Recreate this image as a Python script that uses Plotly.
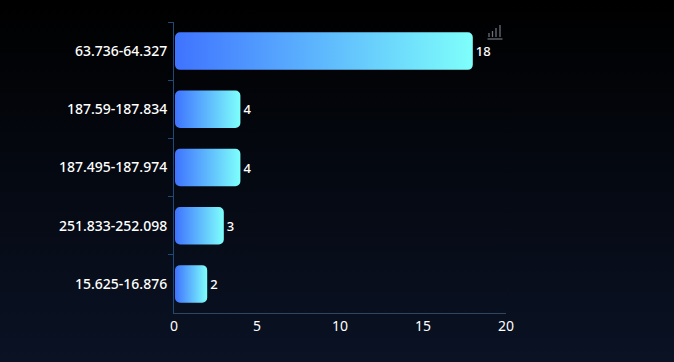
import base64
import plotly.graph_objects as go

categories = ["63.736-64.327", "187.59-187.834", "187.495-187.974", "251.833-252.098", "15.625-16.876"]
counts = [18, 4, 4, 3, 2]
x_ticks = [0, 5, 10, 15, 20]

WIDTH, HEIGHT = 674, 362
LEFT, RIGHT, TOP, BOTTOM = 174, 168, 22, 49
BAR_FRACTION = 0.645


def svg_uri(svg):
    return "data:image/svg+xml;base64," + base64.b64encode(svg.encode()).decode()


background = svg_uri(
    f'<svg xmlns="http://www.w3.org/2000/svg" width="{WIDTH}" height="{HEIGHT}" viewBox="0 0 {WIDTH} {HEIGHT}" preserveAspectRatio="none">'
    '<defs><linearGradient id="b" x1="0" y1="0" x2="0" y2="1">'
    '<stop offset="0" stop-color="#000000"/><stop offset="1" stop-color="#0a1224"/>'
    '</linearGradient></defs>'
    f'<rect width="{WIDTH}" height="{HEIGHT}" fill="url(#b)"/></svg>'
)

icon = svg_uri(
    '<svg xmlns="http://www.w3.org/2000/svg" width="16" height="16" viewBox="0 0 16 16">'
    '<g stroke="#6a6f78" stroke-width="1.3" fill="none">'
    '<path d="M0.5 15H15.5"/><path d="M2 13V9"/><path d="M5.5 13V7"/><path d="M9 13V4"/><path d="M13 13V1"/>'
    '</g></svg>'
)

plot_w = WIDTH - LEFT - RIGHT
plot_h = HEIGHT - TOP - BOTTOM

images = [
    dict(
        source=background, xref="paper", yref="paper",
        x=-LEFT / plot_w, y=1 + TOP / plot_h,
        sizex=WIDTH / plot_w, sizey=HEIGHT / plot_h,
        xanchor="left", yanchor="top", sizing="stretch", layer="below",
    ),
    dict(
        source=icon, xref="paper", yref="paper",
        x=(487 - LEFT) / plot_w, y=1 - (24 - TOP) / plot_h,
        sizex=16 / plot_w, sizey=16 / plot_h,
        xanchor="left", yanchor="top", sizing="stretch", layer="above",
    ),
]

fig = go.Figure(go.Bar(
    y=categories, x=counts, orientation="h", width=BAR_FRACTION,
    marker=dict(color="#5fb9ff", line=dict(width=0)),
    text=counts, textposition="outside", cliponaxis=False,
    textfont=dict(color="#ffffff", size=13, family="Noto Sans", weight=500),
    hoverinfo="skip",
))

fig.update_layout(
    width=WIDTH, height=HEIGHT,
    margin=dict(l=LEFT, r=RIGHT, t=TOP, b=BOTTOM, pad=0),
    paper_bgcolor="#000000", plot_bgcolor="rgba(0,0,0,0)",
    images=images, showlegend=False,
    font=dict(family="Noto Sans", color="#ffffff", size=14),
)
fig.update_xaxes(
    range=[x_ticks[0], x_ticks[-1]], tickvals=x_ticks, showgrid=False, zeroline=False,
    showline=True, linecolor="#2f4560", linewidth=1, ticks="",
    tickfont=dict(size=14, color="#ffffff"),
)
fig.update_yaxes(
    type="category", categoryorder="array", categoryarray=categories, autorange="reversed",
    showgrid=False, zeroline=False, showline=True, linecolor="#1f4a78", linewidth=1,
    ticks="outside", tickson="boundaries", ticklen=5, tickcolor="#1f4a78",
    ticklabelstandoff=3,
    tickfont=dict(size=14, color="#ffffff", weight=500),
)

style_bars = """
document.body.style.margin = '0';
document.body.style.background = '#000';
(function () {
  var gd = document.getElementById('{plot_id}');
  function apply() {
    var svg = gd.querySelector('svg.main-svg');
    if (!svg) return;
    var defs = svg.querySelector('defs');
    if (!document.getElementById('barGrad')) {
      var ns = 'http://www.w3.org/2000/svg';
      var g = document.createElementNS(ns, 'linearGradient');
      g.setAttribute('id', 'barGrad');
      g.setAttribute('x1', '0'); g.setAttribute('y1', '0');
      g.setAttribute('x2', '1'); g.setAttribute('y2', '0');
      [['0', '#3f73ff'], ['1', '#7efffb']].forEach(function (s) {
        var st = document.createElementNS(ns, 'stop');
        st.setAttribute('offset', s[0]);
        st.setAttribute('stop-color', s[1]);
        g.appendChild(st);
      });
      defs.appendChild(g);
    }
    gd.querySelectorAll('.bars .point path').forEach(function (p) {
      if (p.dataset.round) return;
      var b = p.getBBox(), r = 5;
      var x0 = b.x + 1, x1 = b.x + b.width, y0 = b.y, y1 = b.y + b.height;
      p.setAttribute('d',
        'M' + (x0 + r) + ',' + y0 + 'H' + (x1 - r) + 'A' + r + ',' + r + ' 0 0 1 ' + x1 + ',' + (y0 + r) +
        'V' + (y1 - r) + 'A' + r + ',' + r + ' 0 0 1 ' + (x1 - r) + ',' + y1 +
        'H' + (x0 + r) + 'A' + r + ',' + r + ' 0 0 1 ' + x0 + ',' + (y1 - r) +
        'V' + (y0 + r) + 'A' + r + ',' + r + ' 0 0 1 ' + (x0 + r) + ',' + y0 + 'Z');
      p.style.fill = 'url(#barGrad)';
      p.dataset.round = '1';
    });
  }
  apply();
  if (gd.on) gd.on('plotly_afterplot', apply);
  setTimeout(apply, 0);
})();
"""

fig.write_html("out.html", config={"displayModeBar": False}, post_script=style_bars)
